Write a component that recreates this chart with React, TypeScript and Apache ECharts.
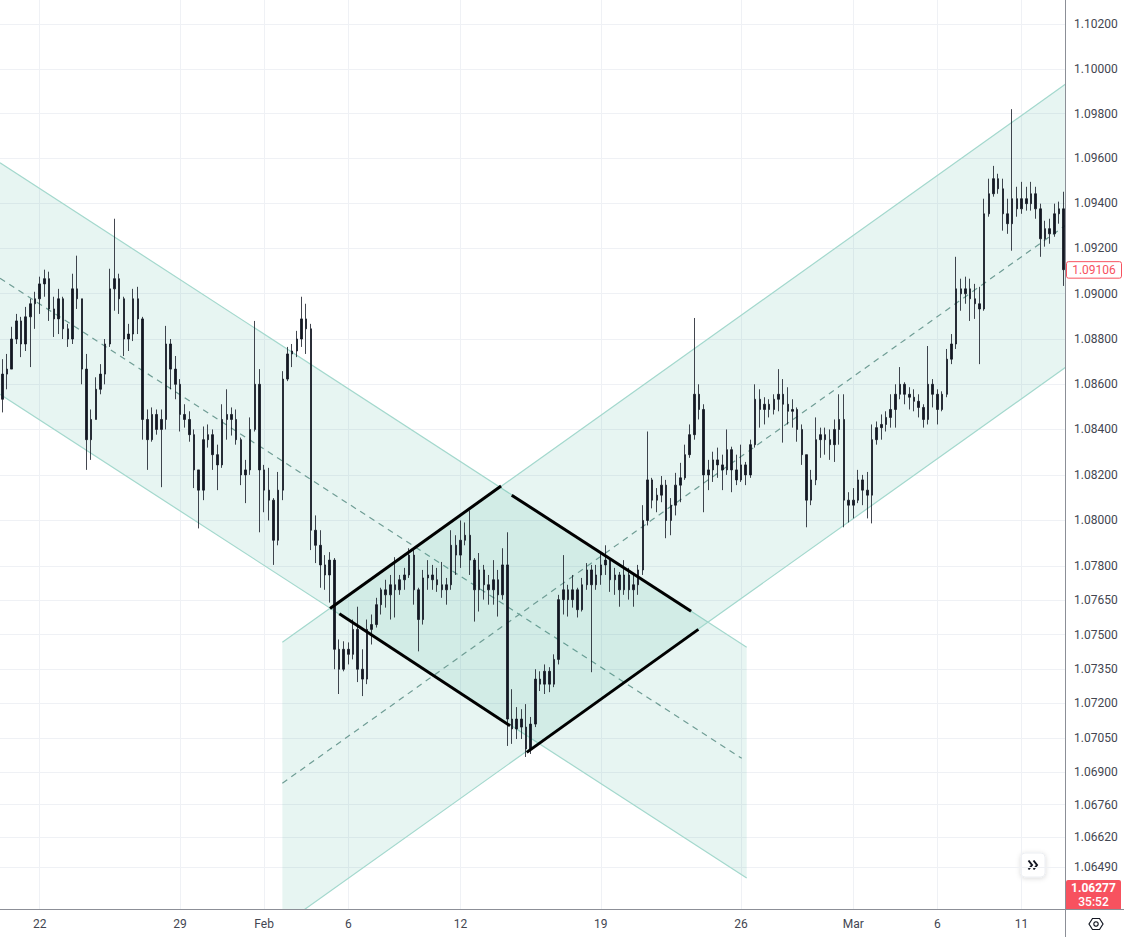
import React, { useEffect, useRef } from 'react';
import * as echarts from 'echarts';

// ---- axis / labels ----
const DATE_LABELS = ['22', '29', 'Feb', '6', '12', '19', '26', 'Mar', '6', '11'];
const DATE_LABEL_INDEX = [8, 38, 56, 74, 98, 128, 158, 182, 200, 218];
const PRICE_TICKS = [1.102, 1.1, 1.098, 1.096, 1.094, 1.092, 1.09, 1.088, 1.086, 1.084, 1.082, 1.08, 1.078, 1.0765, 1.075, 1.0735, 1.072, 1.0705, 1.069, 1.0676, 1.0662, 1.0649];
const Y_MIN = 1.06304;
const Y_MAX = 1.10308;
const LAST_PRICE = 1.09106;
const BOTTOM_PRICE_TEXT = '1.06277';
const COUNTDOWN_TEXT = '35:52';

// ---- candles [open, close, low, high] (4h buckets) ----
const SEG_A = [
  [1.08533, 1.08644, 1.08475, 1.0871], [1.08644, 1.08666, 1.08577, 1.08733], [1.08666, 1.08799, 1.08666, 1.08853],
  [1.08799, 1.08879, 1.08777, 1.0891], [1.08879, 1.08777, 1.08719, 1.08897], [1.08777, 1.08897, 1.08746, 1.08941],
  [1.08897, 1.08955, 1.08675, 1.08977], [1.08955, 1.08977, 1.08844, 1.09008], [1.08977, 1.09043, 1.0891, 1.09075],
  [1.09043, 1.09066, 1.08986, 1.09106], [1.09066, 1.08932, 1.08879, 1.09097], [1.08932, 1.08888, 1.08808, 1.08986],
  [1.08888, 1.08977, 1.08821, 1.09021], [1.08977, 1.08844, 1.08799, 1.08986], [1.08844, 1.08799, 1.08764, 1.08866],
  [1.08799, 1.09021, 1.08777, 1.09088], [1.09021, 1.08977, 1.08932, 1.09168], [1.08977, 1.08666, 1.08599, 1.08977],
  [1.08666, 1.08355, 1.08222, 1.08733], [1.08355, 1.08444, 1.08266, 1.08488], [1.08444, 1.08577, 1.08444, 1.0863],
  [1.08577, 1.08644, 1.08555, 1.08688], [1.08644, 1.08777, 1.08599, 1.08799], [1.08777, 1.09021, 1.08764, 1.0911],
  [1.09021, 1.09066, 1.08924, 1.09332], [1.09066, 1.08977, 1.0891, 1.09088], [1.08977, 1.08799, 1.08724, 1.08986],
  [1.08799, 1.08821, 1.08746, 1.08866], [1.08821, 1.08977, 1.0879, 1.09021], [1.08977, 1.08888, 1.08821, 1.0903],
  [1.08888, 1.08444, 1.08355, 1.08897], [1.08444, 1.08355, 1.08222, 1.08488], [1.08355, 1.08466, 1.08346, 1.08497],
  [1.08466, 1.084, 1.08377, 1.08488], [1.084, 1.08444, 1.08146, 1.08488], [1.08444, 1.08777, 1.084, 1.08857],
  [1.08777, 1.08666, 1.08577, 1.08799], [1.08666, 1.08599, 1.08533, 1.08724],
];
const SEG_B = [
  [1.08599, 1.08466, 1.08391, 1.08622], [1.08466, 1.08444, 1.08408, 1.08511], [1.08444, 1.08377, 1.08346, 1.0848],
  [1.08377, 1.08222, 1.08142, 1.084], [1.08222, 1.08133, 1.07965, 1.08222], [1.08133, 1.08355, 1.08089, 1.08413],
  [1.08355, 1.08377, 1.0832, 1.08422], [1.08377, 1.08289, 1.08222, 1.084], [1.08289, 1.08244, 1.08133, 1.08333],
  [1.08244, 1.08444, 1.08231, 1.08511], [1.08444, 1.08466, 1.08355, 1.08577], [1.08466, 1.08444, 1.08373, 1.08497],
  [1.08444, 1.08355, 1.08333, 1.08488], [1.08355, 1.082, 1.08155, 1.08364], [1.082, 1.08222, 1.08076, 1.08266],
  [1.08222, 1.084, 1.082, 1.08453], [1.084, 1.08599, 1.08391, 1.08879], [1.08599, 1.08222, 1.07948, 1.08666],
  [1.08222, 1.08133, 1.08036, 1.08244], [1.08133, 1.08089, 1.08, 1.08231], [1.08089, 1.07913, 1.07805, 1.08098],
  [1.07913, 1.08133, 1.07891, 1.08213], [1.08133, 1.08622, 1.08089, 1.08657], [1.08622, 1.08733, 1.08613, 1.08764],
  [1.08733, 1.08746, 1.08675, 1.08777], [1.08746, 1.08799, 1.08719, 1.08835], [1.08799, 1.08888, 1.08764, 1.08986],
  [1.08888, 1.08844, 1.08733, 1.08955], [1.08844, 1.07957, 1.0787, 1.08866], [1.07957, 1.07891, 1.07813, 1.08022],
  [1.07891, 1.07805, 1.07705, 1.07957], [1.07805, 1.07761, 1.07696, 1.07848], [1.07761, 1.07826, 1.0764, 1.07861],
  [1.07826, 1.07436, 1.07349, 1.07835], [1.07436, 1.07349, 1.07241, 1.07479], [1.07349, 1.07436, 1.0734, 1.07471],
];
const SEG_C = [
  [1.07436, 1.07414, 1.0737, 1.07466], [1.07414, 1.07523, 1.07392, 1.07566], [1.07523, 1.07349, 1.07293, 1.07622],
  [1.07349, 1.07306, 1.07232, 1.07436], [1.07306, 1.07523, 1.07284, 1.07566], [1.07523, 1.07544, 1.07457, 1.07588],
  [1.07544, 1.07631, 1.07531, 1.07661], [1.07631, 1.07696, 1.07588, 1.07705], [1.07696, 1.07674, 1.07618, 1.0774],
  [1.07674, 1.07718, 1.07566, 1.07761], [1.07718, 1.07696, 1.07575, 1.07839], [1.07696, 1.0774, 1.07674, 1.07761],
  [1.0774, 1.07761, 1.07696, 1.07792], [1.07761, 1.07848, 1.07748, 1.07878], [1.07848, 1.07696, 1.07631, 1.0787],
  [1.07696, 1.07566, 1.07427, 1.07705], [1.07566, 1.07748, 1.07544, 1.07783], [1.07748, 1.07761, 1.07696, 1.07826],
  [1.07761, 1.0774, 1.07696, 1.07805], [1.0774, 1.07718, 1.07687, 1.07792], [1.07718, 1.07696, 1.07661, 1.07818],
  [1.07696, 1.07718, 1.07631, 1.07748], [1.07718, 1.07891, 1.07696, 1.07957], [1.07891, 1.07848, 1.07761, 1.07935],
  [1.07848, 1.07913, 1.07792, 1.08], [1.07913, 1.07935, 1.07891, 1.07991], [1.07935, 1.07826, 1.07761, 1.08044],
  [1.07826, 1.07696, 1.07557, 1.07835], [1.07696, 1.07783, 1.07601, 1.07857], [1.07783, 1.07718, 1.07653, 1.07805],
  [1.07718, 1.07696, 1.07631, 1.07761], [1.07696, 1.0774, 1.07631, 1.07826], [1.0774, 1.07674, 1.07579, 1.07783],
  [1.07674, 1.07805, 1.07653, 1.07878], [1.07805, 1.07132, 1.07015, 1.07948], [1.07132, 1.07089, 1.07024, 1.07262],
  [1.07089, 1.07132, 1.07045, 1.07184], [1.07132, 1.07097, 1.07045, 1.07175], [1.07097, 1.07002, 1.06967, 1.07197],
  [1.07002, 1.0711, 1.0698, 1.07141], [1.0711, 1.07306, 1.07097, 1.07349], [1.07306, 1.07284, 1.07254, 1.0734],
  [1.07284, 1.0734, 1.07241, 1.0737], [1.0734, 1.07284, 1.07249, 1.07358], [1.07284, 1.07392, 1.07271, 1.07414],
  [1.07392, 1.07653, 1.0737, 1.07674], [1.07653, 1.07696, 1.07588, 1.07848], [1.07696, 1.07653, 1.07579, 1.07718],
  [1.07653, 1.07696, 1.07618, 1.07761], [1.07696, 1.07609, 1.07575, 1.07705], [1.07609, 1.07718, 1.07601, 1.07748],
  [1.07718, 1.07783, 1.07696, 1.07813], [1.07783, 1.07718, 1.07336, 1.07805], [1.07718, 1.07761, 1.07696, 1.07805],
];
const SEG_D = [
  [1.07761, 1.07805, 1.07718, 1.07857], [1.07805, 1.07826, 1.07761, 1.07891], [1.07826, 1.0774, 1.07687, 1.07835],
  [1.0774, 1.07761, 1.07674, 1.07792], [1.07761, 1.07696, 1.07622, 1.07774], [1.07696, 1.07761, 1.07674, 1.07826],
  [1.07761, 1.07696, 1.07653, 1.07792], [1.07696, 1.07718, 1.07622, 1.07761], [1.07718, 1.07783, 1.07674, 1.07805],
  [1.07783, 1.08, 1.07761, 1.08067], [1.08, 1.08178, 1.07978, 1.08391], [1.08178, 1.08089, 1.08053, 1.08187],
  [1.08089, 1.08111, 1.08036, 1.08142], [1.08111, 1.08155, 1.0808, 1.08195], [1.08155, 1.08, 1.07922, 1.08178],
  [1.08, 1.08067, 1.07935, 1.08098], [1.08067, 1.08155, 1.08022, 1.08209], [1.08155, 1.08187, 1.0808, 1.08253],
  [1.08187, 1.08289, 1.08178, 1.08333], [1.08289, 1.08377, 1.08275, 1.08422], [1.08377, 1.08555, 1.08355, 1.08892],
  [1.08555, 1.08488, 1.08444, 1.08599], [1.08488, 1.082, 1.08036, 1.08511], [1.082, 1.08222, 1.08133, 1.08266],
  [1.08222, 1.08266, 1.08169, 1.08302], [1.08266, 1.08244, 1.08187, 1.0832], [1.08244, 1.08222, 1.08133, 1.08289],
  [1.08222, 1.08311, 1.082, 1.084], [1.08311, 1.08222, 1.08124, 1.08324], [1.08222, 1.08178, 1.08155, 1.08289],
  [1.08178, 1.08244, 1.08169, 1.08333], [1.08244, 1.082, 1.08155, 1.08257], [1.082, 1.08333, 1.08187, 1.08355],
  [1.08333, 1.08533, 1.0832, 1.08599], [1.08533, 1.08488, 1.08408, 1.08577], [1.08488, 1.08511, 1.08422, 1.08542],
  [1.08511, 1.08488, 1.08453, 1.08533], [1.08488, 1.08533, 1.08466, 1.08555], [1.08533, 1.08555, 1.0848, 1.08666],
  [1.08555, 1.08511, 1.08342, 1.08622], [1.08511, 1.0848, 1.08422, 1.08586], [1.0848, 1.08488, 1.08408, 1.08533],
  [1.08488, 1.084, 1.08346, 1.08497], [1.084, 1.08289, 1.08244, 1.08422], [1.08289, 1.08089, 1.0797, 1.08289],
  [1.08089, 1.08178, 1.08067, 1.08222], [1.08178, 1.08355, 1.08155, 1.08453], [1.08355, 1.08377, 1.08275, 1.08408],
  [1.08377, 1.08355, 1.08289, 1.08408], [1.08355, 1.08333, 1.08266, 1.084], [1.08333, 1.084, 1.08257, 1.08444],
  [1.084, 1.08444, 1.08333, 1.08555], [1.08444, 1.08089, 1.0797, 1.08555], [1.08089, 1.08067, 1.07991, 1.08124],
];
const SEG_E = [
  [1.08067, 1.08089, 1.08009, 1.08142], [1.08089, 1.08178, 1.08076, 1.08222], [1.08178, 1.08133, 1.08067, 1.082],
  [1.08133, 1.08111, 1.08009, 1.08213], [1.08111, 1.08355, 1.07987, 1.08422], [1.08355, 1.08408, 1.08333, 1.08435],
  [1.08408, 1.08422, 1.08355, 1.08466], [1.08422, 1.08453, 1.08391, 1.0848], [1.08453, 1.08488, 1.08408, 1.08555],
  [1.08488, 1.08555, 1.08408, 1.08599], [1.08555, 1.08599, 1.08533, 1.08675], [1.08599, 1.08555, 1.08511, 1.08608],
  [1.08555, 1.08542, 1.08488, 1.08586], [1.08542, 1.08524, 1.0848, 1.08577], [1.08524, 1.08497, 1.08453, 1.08555],
  [1.08497, 1.08444, 1.08408, 1.08511], [1.08444, 1.08599, 1.08422, 1.08768], [1.08599, 1.08555, 1.08497, 1.08622],
  [1.08555, 1.08488, 1.08422, 1.08577], [1.08488, 1.08555, 1.0848, 1.08568], [1.08555, 1.0871, 1.08542, 1.08755],
  [1.0871, 1.08777, 1.08688, 1.08821], [1.08777, 1.09021, 1.08755, 1.09163], [1.09021, 1.08999, 1.08924, 1.09066],
  [1.08999, 1.09021, 1.08955, 1.09075], [1.09021, 1.08977, 1.08879, 1.09066], [1.08977, 1.08955, 1.08888, 1.09043],
  [1.08955, 1.08932, 1.08688, 1.0903], [1.08932, 1.09354, 1.08924, 1.09421], [1.09354, 1.09443, 1.09341, 1.0951],
  [1.09443, 1.0951, 1.0943, 1.09567], [1.0951, 1.09465, 1.09443, 1.09532], [1.09465, 1.09354, 1.09279, 1.0951],
  [1.09354, 1.0931, 1.09265, 1.09421], [1.0931, 1.09421, 1.0919, 1.0982], [1.09421, 1.09376, 1.09341, 1.09474],
  [1.09376, 1.09421, 1.09354, 1.09496], [1.09421, 1.09399, 1.09368, 1.09474], [1.09399, 1.09443, 1.09368, 1.09496],
  [1.09443, 1.09376, 1.09332, 1.09474], [1.09376, 1.09243, 1.09163, 1.09399], [1.09243, 1.09288, 1.09208, 1.09323],
  [1.09288, 1.09265, 1.09221, 1.09332], [1.09265, 1.09354, 1.09252, 1.09399], [1.09354, 1.09376, 1.0931, 1.09408],
  [1.09376, 1.09106, 1.09034, 1.09452],
];

// ---- drawings (x in candle-index units, y in price) ----
const DESC_X = [-0.5, 159.2];
const DESC_UPPER = [1.09581, 1.07445];
const DESC_LOWER = [1.08555, 1.06442];
const DESC_MID_X = [-0.5, 158.15];
const DESC_MID = [1.09068, 1.06961];

const ASC_X = [59.89, 227.5];
const ASC_UPPER = [1.07467, 1.09933];
const ASC_LOWER = [1.06238, 1.08675];
const ASC_MID_X = [59.89, 227.5];
const ASC_MID = [1.06853, 1.09304];

const DIAMOND_LINES = [
  [[70.09, 1.07614], [106.67, 1.08151]],
  [[108.95, 1.08111], [147.31, 1.07602]],
  [[72.08, 1.07591], [108.59, 1.07103]],
  [[112.16, 1.06987], [148.87, 1.07523]],
];

const CHANNELS = [
  { x: DESC_X, upper: DESC_UPPER, lower: DESC_LOWER, midX: DESC_MID_X, mid: DESC_MID },
  { x: ASC_X, upper: ASC_UPPER, lower: ASC_LOWER, midX: ASC_MID_X, mid: ASC_MID },
];

const FONT = 'Roboto, "Noto Sans", sans-serif';
const TEXT_COLOR = '#434651';
const GRID_COLOR = '#eff1f5';
const CANDLE_COLOR = '#131722';
const CH_FILL = 'rgba(60, 170, 150, 0.12)';
const CH_LINE = '#a3d8cd';
const CH_MID = '#6f9d95';
const RED = '#f7525f';

export default function App() {
  const ref = useRef<HTMLDivElement>(null);

  useEffect(() => {
    if (!ref.current) return;
    const chart = echarts.init(ref.current, undefined, { renderer: 'svg' });
    const candles = [...SEG_A, ...SEG_B, ...SEG_C, ...SEG_D, ...SEG_E];
    const n = candles.length;
    const categories = candles.map((_, i) => String(i));

    const option: any = {
      animation: false,
      backgroundColor: '#ffffff',
      grid: { left: 0, right: 58, top: 0, bottom: 27, containLabel: false },
      xAxis: [
        { type: 'category', data: categories, boundaryGap: true, show: false },
        {
          type: 'value',
          min: -0.5,
          max: n - 0.5,
          position: 'bottom',
          axisLine: { show: false },
          axisTick: { show: false, customValues: DATE_LABEL_INDEX },
          axisLabel: {
            customValues: DATE_LABEL_INDEX,
            formatter: (v: number) => {
              const k = DATE_LABEL_INDEX.indexOf(Math.round(v));
              return k >= 0 ? DATE_LABELS[k] : '';
            },
            color: TEXT_COLOR,
            fontSize: 12,
            fontFamily: FONT,
            margin: 8,
          },
          splitLine: { show: true, lineStyle: { color: GRID_COLOR, width: 1 } },
        },
      ],
      yAxis: {
        type: 'log',
        logBase: 10,
        min: Y_MIN,
        max: Y_MAX,
        position: 'right',
        axisLine: { show: false },
        axisTick: { show: false, customValues: PRICE_TICKS },
        axisLabel: {
          customValues: PRICE_TICKS,
          formatter: (v: number) => Number(v).toFixed(5),
          color: TEXT_COLOR,
          fontSize: 12,
          fontFamily: FONT,
          margin: 8,
          align: 'left',
        },
        splitLine: { show: true, lineStyle: { color: GRID_COLOR, width: 1 } },
      },
      series: [
        {
          type: 'custom',
          name: 'channels',
          xAxisIndex: 1,
          yAxisIndex: 0,
          clip: true,
          silent: true,
          z: 1,
          data: CHANNELS.map((_, i) => [i, 1.08]),
          encode: { x: 0, y: 1 },
          renderItem: (params: any, api: any) => {
            const ch = CHANNELS[params.dataIndex];
            const ul = api.coord([ch.x[0], ch.upper[0]]);
            const ur = api.coord([ch.x[1], ch.upper[1]]);
            const ll = api.coord([ch.x[0], ch.lower[0]]);
            const lr = api.coord([ch.x[1], ch.lower[1]]);
            const ml = api.coord([ch.midX[0], ch.mid[0]]);
            const mr = api.coord([ch.midX[1], ch.mid[1]]);
            return {
              type: 'group',
              children: [
                { type: 'polygon', shape: { points: [ul, ur, lr, ll] }, style: { fill: CH_FILL } },
                { type: 'line', shape: { x1: ul[0], y1: ul[1], x2: ur[0], y2: ur[1] }, style: { stroke: CH_LINE, lineWidth: 1.2 } },
                { type: 'line', shape: { x1: ll[0], y1: ll[1], x2: lr[0], y2: lr[1] }, style: { stroke: CH_LINE, lineWidth: 1.2 } },
                { type: 'line', shape: { x1: ml[0], y1: ml[1], x2: mr[0], y2: mr[1] }, style: { stroke: CH_MID, lineWidth: 1.2, lineDash: [6, 5] } },
              ],
            };
          },
        },
        {
          type: 'candlestick',
          name: 'EURUSD',
          xAxisIndex: 0,
          yAxisIndex: 0,
          data: candles,
          barWidth: 2,
          z: 3,
          itemStyle: {
            color: CANDLE_COLOR,
            color0: CANDLE_COLOR,
            borderColor: CANDLE_COLOR,
            borderColor0: CANDLE_COLOR,
            borderWidth: 0.8,
          },
        },
        {
          type: 'lines',
          name: 'diamond',
          coordinateSystem: 'cartesian2d',
          xAxisIndex: 1,
          yAxisIndex: 0,
          silent: true,
          z: 5,
          lineStyle: { color: '#000000', width: 3, opacity: 1 },
          data: DIAMOND_LINES.map((c) => ({ coords: c })),
        },
        {
          type: 'custom',
          name: 'lastPrice',
          xAxisIndex: 1,
          yAxisIndex: 0,
          clip: false,
          silent: true,
          z: 8,
          data: [[n - 0.5, LAST_PRICE]],
          encode: { x: 0, y: 1 },
          renderItem: (params: any, api: any) => {
            const p = api.coord([api.value(0), api.value(1)]);
            return {
              type: 'group',
              children: [
                { type: 'rect', shape: { x: p[0] + 0.5, y: p[1] - 8, width: 55, height: 16.5, r: 2 }, style: { fill: '#ffffff', stroke: RED, lineWidth: 1 } },
                { type: 'text', style: { x: p[0] + 28, y: p[1] + 0.5, text: LAST_PRICE.toFixed(5), fill: RED, font: `12px ${FONT}`, align: 'center', verticalAlign: 'middle' } },
              ],
            };
          },
        },
      ],
      graphic: [
        { type: 'line', z: 10, shape: { x1: 0, y1: 909.5, x2: 1124, y2: 909.5 }, style: { stroke: '#8c8f97', lineWidth: 1 } },
        { type: 'line', z: 10, shape: { x1: 1065.5, y1: 0, x2: 1065.5, y2: 937 }, style: { stroke: '#8c8f97', lineWidth: 1 } },
        {
          type: 'group',
          z: 11,
          children: [
            { type: 'rect', shape: { x: 1066, y: 880, width: 55, height: 29, r: [2, 2, 0, 0] }, style: { fill: RED } },
            { type: 'text', style: { x: 1093.5, y: 888, text: BOTTOM_PRICE_TEXT, fill: '#ffffff', font: `bold 12px ${FONT}`, align: 'center', verticalAlign: 'middle' } },
            { type: 'text', style: { x: 1093.5, y: 901.5, text: COUNTDOWN_TEXT, fill: '#ffffff', font: `500 12px ${FONT}`, align: 'center', verticalAlign: 'middle' } },
          ],
        },
        {
          type: 'group',
          z: 11,
          children: [
            { type: 'rect', shape: { x: 1021, y: 853, width: 24, height: 24, r: 4 }, style: { fill: '#ffffff', stroke: '#eceef2', lineWidth: 1, shadowBlur: 5, shadowColor: 'rgba(0,0,0,0.15)', shadowOffsetY: 1 } },
            { type: 'polyline', shape: { points: [[1028.5, 860.5], [1032, 865], [1028.5, 869.5]] }, style: { fill: 'none', stroke: '#131722', lineWidth: 2 } },
            { type: 'polyline', shape: { points: [[1033.5, 860.5], [1037, 865], [1033.5, 869.5]] }, style: { fill: 'none', stroke: '#131722', lineWidth: 2 } },
          ],
        },
        {
          type: 'group',
          z: 11,
          children: [
            { type: 'polygon', shape: { points: [[1089, 924], [1092.5, 918.5], [1099.5, 918.5], [1103, 924], [1099.5, 929.5], [1092.5, 929.5]] }, style: { fill: 'none', stroke: '#131722', lineWidth: 1.2 } },
            { type: 'circle', shape: { cx: 1096, cy: 924, r: 2.2 }, style: { fill: 'none', stroke: '#131722', lineWidth: 1.2 } },
          ],
        },
      ],
    };

    chart.setOption(option);
    return () => chart.dispose();
  }, []);

  return (
    <div
      ref={ref}
      style={{ position: 'fixed', left: 0, top: 0, width: '1124px', height: '937px', background: '#ffffff' }}
    />
  );
}
